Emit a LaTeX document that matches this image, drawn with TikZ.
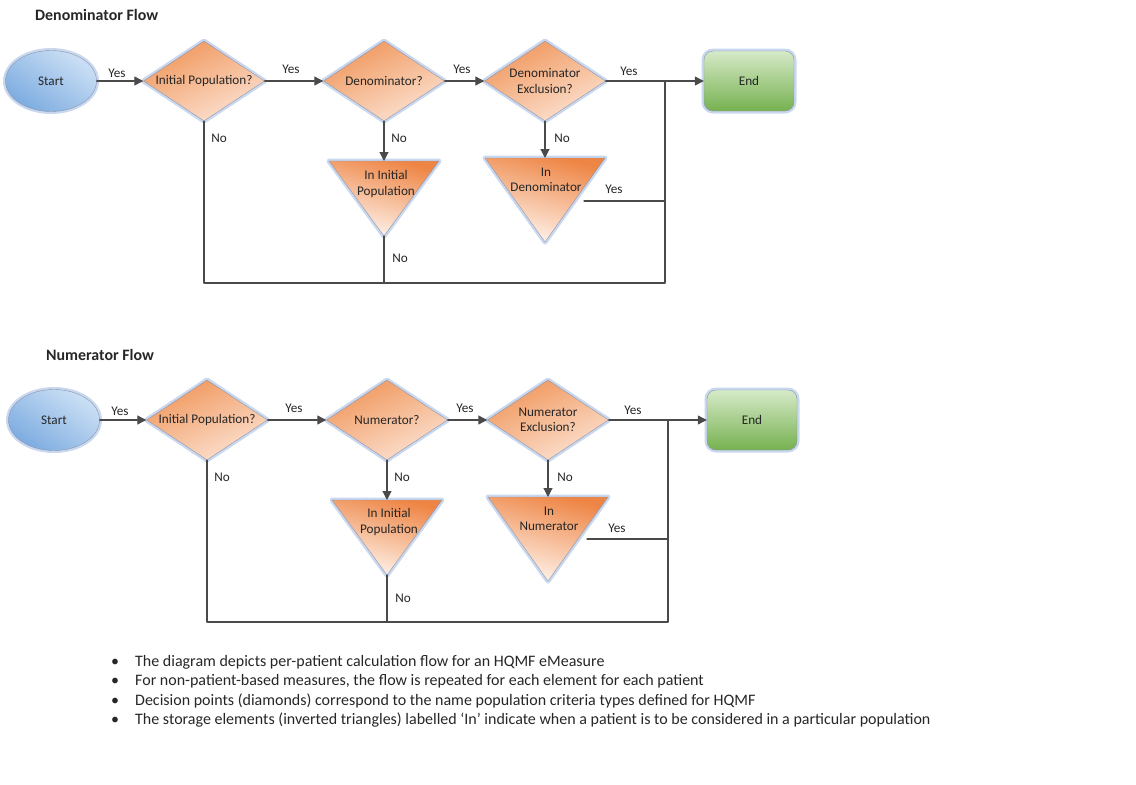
\documentclass[tikz,border=0pt]{standalone}
\usepackage{fontspec}
\setmainfont{Carlito}
\usetikzlibrary{shapes.geometric,arrows.meta}
\definecolor{edgegray}{HTML}{8A96AE}
\definecolor{glowblue}{HTML}{CAD8EF}
\definecolor{linegray}{HTML}{4A4A4A}
\definecolor{diatop}{HTML}{F0975C}
\definecolor{diabot}{HTML}{FCE2D2}
\definecolor{tritop}{HTML}{EE8544}
\definecolor{tribot}{HTML}{FFF6F0}
\definecolor{starttop}{HTML}{CCE0F5}
\definecolor{startbot}{HTML}{7DACE0}
\definecolor{endtop}{HTML}{D6EAC8}
\definecolor{endbot}{HTML}{76B150}
\definecolor{textgray}{HTML}{262626}
\newcommand{\flowfont}{\fontsize{13.2}{15.5}\selectfont}
\newcommand{\notefont}{\fontsize{16}{19}\selectfont}
\newcommand{\headfont}{\fontsize{15.9}{18}\selectfont\bfseries}
\begin{document}
\begin{tikzpicture}[x=1pt,y=-1pt,line cap=round,line join=round,text=textgray,
    glow/.style={preaction={draw=glowblue,line width=5pt}},
    flow/.style={draw=linegray,line width=1.1pt},
    arr/.style={flow,-{Triangle[length=9pt,width=9pt]}},
    lbl/.style={inner sep=0pt,font=\flowfont},
    decision/.style={diamond,aspect=1.5,minimum width=121,minimum height=80,inner sep=0pt,align=center,
        draw=edgegray,top color=diatop,bottom color=diabot,shading angle=25,glow,font=\flowfont},
    terminal/.style={ellipse,minimum width=91,minimum height=61,inner sep=0pt,
        draw=edgegray,top color=starttop,bottom color=startbot,shading angle=-35,glow,font=\flowfont},
    endbox/.style={rectangle,rounded corners=9pt,minimum width=90,minimum height=60,inner sep=0pt,
        draw=edgegray,top color=endtop,bottom color=endbot,glow,font=\flowfont},
    store/.style={draw=edgegray,top color=tritop,bottom color=tribot,shading angle=-15,glow},
    storetext/.style={lbl,align=center},
    heading/.style={inner sep=0pt,anchor=west,font=\headfont},
    note/.style={inner sep=0pt,anchor=west,font=\notefont}]
    \useasboundingbox (0,0) rectangle (1136,785);

    \node[heading] (dhead) at (35,15) {Denominator Flow};
    \node[terminal] (dstart) at (51,81) {Start};
    \node[decision] (dip) at (204,81) {Initial Population?};
    \node[decision] (dden) at (384,81) {Denominator?};
    \node[decision] (dex) at (545,81) {Denominator\\Exclusion?};
    \node[endbox] (dend) at (749,81) {End};
    \coordinate (dinip-top) at (384,161);
    \coordinate (dinip-bot) at (384,236);
    \coordinate (dinden-top) at (545,158);
    \coordinate (dinden-bot) at (545,242);
    \coordinate (djoin) at (665,81);
    \coordinate (dloop) at (665,283);
    \coordinate (dback) at (584,201);
    \path[store] (329,161) -- (439,161) -- (dinip-bot) -- cycle;
    \path[store] (485,158) -- (605,158) -- (dinden-bot) -- cycle;
    \node[storetext] (dinip) at (386,184) {In Initial\\Population};
    \node[storetext] (dinden) at (546,180) {In\\Denominator};
    \draw[arr] (dstart) -- (dip);
    \draw[arr] (dip) -- (dden);
    \draw[arr] (dden) -- (dex);
    \draw[arr] (dex) -- (dend);
    \draw[arr] (dden.south) -- (dinip-top);
    \draw[arr] (dex.south) -- (dinden-top);
    \draw[flow] (dip.south) |- (dloop) -- (djoin);
    \draw[flow] (dinip-bot) -- (dinip-bot |- dloop);
    \draw[flow] (dback) -- (dback -| djoin);
    \node[lbl] (dyes1) at (117,73) {Yes};
    \node[lbl] (dyes2) at (291,69) {Yes};
    \node[lbl] (dyes3) at (462,69) {Yes};
    \node[lbl] (dyes4) at (629,71) {Yes};
    \node[lbl] (dyes5) at (614,189) {Yes};
    \node[lbl] (dno1) at (219,138) {No};
    \node[lbl] (dno2) at (399,138) {No};
    \node[lbl] (dno3) at (562,138) {No};
    \node[lbl] (dno4) at (400,258) {No};

    \node[heading] (nhead) at (46,355) {Numerator Flow};
    \node[terminal] (nstart) at (54,420) {Start};
    \node[decision] (nip) at (207,420) {Initial Population?};
    \node[decision] (nnum) at (387,420) {Numerator?};
    \node[decision] (nex) at (548,420) {Numerator\\Exclusion?};
    \node[endbox] (nend) at (752,420) {End};
    \coordinate (ninip-top) at (387,500);
    \coordinate (ninip-bot) at (387,575);
    \coordinate (ninnum-top) at (548,497);
    \coordinate (ninnum-bot) at (548,581);
    \coordinate (njoin) at (668,420);
    \coordinate (nloop) at (668,622);
    \coordinate (nback) at (587,539);
    \path[store] (332,500) -- (442,500) -- (ninip-bot) -- cycle;
    \path[store] (488,497) -- (608,497) -- (ninnum-bot) -- cycle;
    \node[storetext] (ninip) at (389,522) {In Initial\\Population};
    \node[storetext] (ninnum) at (549,519) {In\\Numerator};
    \draw[arr] (nstart) -- (nip);
    \draw[arr] (nip) -- (nnum);
    \draw[arr] (nnum) -- (nex);
    \draw[arr] (nex) -- (nend);
    \draw[arr] (nnum.south) -- (ninip-top);
    \draw[arr] (nex.south) -- (ninnum-top);
    \draw[flow] (nip.south) |- (nloop) -- (njoin);
    \draw[flow] (ninip-bot) -- (ninip-bot |- nloop);
    \draw[flow] (nback) -- (nback -| njoin);
    \node[lbl] (nyes1) at (120,411) {Yes};
    \node[lbl] (nyes2) at (294,408) {Yes};
    \node[lbl] (nyes3) at (465,408) {Yes};
    \node[lbl] (nyes4) at (633,410) {Yes};
    \node[lbl] (nyes5) at (617,528) {Yes};
    \node[lbl] (nno1) at (222,477) {No};
    \node[lbl] (nno2) at (402,477) {No};
    \node[lbl] (nno3) at (565,477) {No};
    \node[lbl] (nno4) at (403,598) {No};

    \node[note] (note1) at (111,662) {\makebox[24pt][l]{•}The diagram depicts per-patient calculation flow for an HQMF eMeasure};
    \node[note] (note2) at (111,681) {\makebox[24pt][l]{•}For non-patient-based measures, the flow is repeated for each element for each patient};
    \node[note] (note3) at (111,701) {\makebox[24pt][l]{•}Decision points (diamonds) correspond to the name population criteria types defined for HQMF};
    \node[note] (note4) at (111,720) {\makebox[24pt][l]{•}The storage elements (inverted triangles) labelled ‘In’ indicate when a patient is to be considered in a particular population};
\end{tikzpicture}
\end{document}
